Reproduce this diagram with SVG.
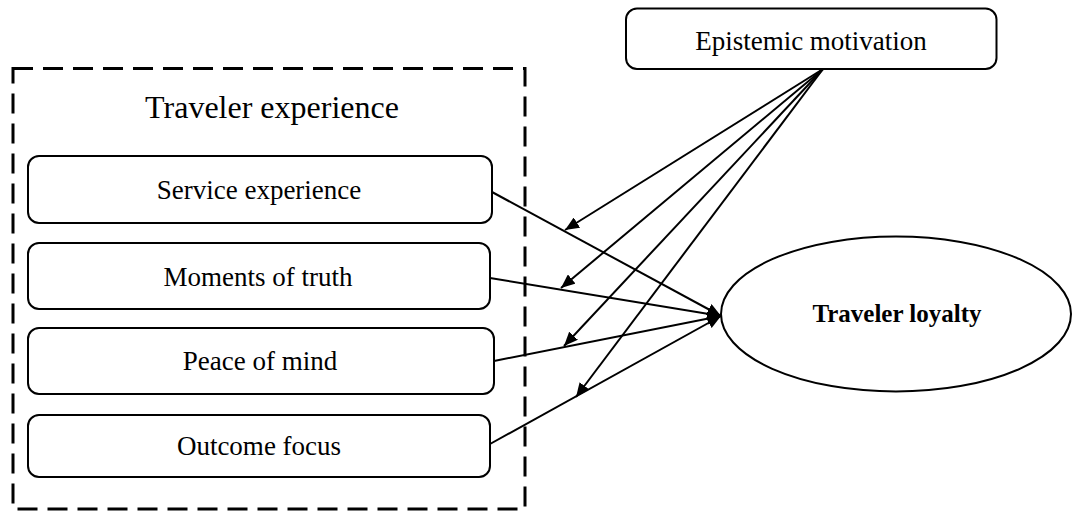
<svg xmlns="http://www.w3.org/2000/svg" width="1072" height="511" viewBox="0 0 1072 511">
<style>
.box{fill:#fff;stroke:#000;stroke-width:2}
.t{font-family:"Liberation Serif","Times New Roman",serif;font-size:27px;text-anchor:middle;fill:#000}
.ln{stroke:#000;stroke-width:2;fill:none;marker-end:url(#ah)}
</style>
<defs>
<marker id="ah" markerUnits="userSpaceOnUse" markerWidth="16" markerHeight="12" refX="14" refY="6" orient="auto">
<path d="M0,0 L14,6 L0,12 Z" fill="#000"/>
</marker>
</defs>
<rect x="0" y="0" width="1072" height="511" fill="#fff"/>
<g id="group-traveler-experience">
<rect x="13" y="68.5" width="512" height="440.5" fill="none" stroke="#000" stroke-width="3" stroke-dasharray="20,10"/>
<text class="t" x="272" y="118" style="font-size:32px">Traveler experience</text>
</g>
<g id="node-service-experience">
<rect class="box" x="28" y="156" width="464" height="67" rx="11"/>
<text class="t" x="259" y="199">Service experience</text>
</g>
<g id="node-moments-of-truth">
<rect class="box" x="28" y="243" width="462" height="66" rx="11"/>
<text class="t" x="258" y="286">Moments of truth</text>
</g>
<g id="node-peace-of-mind">
<rect class="box" x="28" y="328" width="466" height="66" rx="11"/>
<text class="t" x="260" y="370">Peace of mind</text>
</g>
<g id="node-outcome-focus">
<rect class="box" x="28" y="415" width="462" height="62" rx="11"/>
<text class="t" x="259" y="455">Outcome focus</text>
</g>
<g id="node-epistemic-motivation">
<rect class="box" x="626" y="8.5" width="370.5" height="60.5" rx="11"/>
<text class="t" x="811" y="49.5">Epistemic motivation</text>
</g>
<g id="node-traveler-loyalty">
<ellipse cx="896" cy="314" rx="175" ry="77.5" fill="#fff" stroke="#000" stroke-width="2"/>
<text class="t" x="897" y="322" style="font-size:25px;font-weight:bold">Traveler loyalty</text>
</g>
<g id="connectors">
<line class="ln" x1="492" y1="192" x2="721" y2="316"/>
<line class="ln" x1="490" y1="278" x2="721" y2="316"/>
<line class="ln" x1="494" y1="361" x2="721" y2="316"/>
<line class="ln" x1="490" y1="444" x2="721" y2="316"/>
<line class="ln" x1="823" y1="69" x2="565" y2="230"/>
<line class="ln" x1="823" y1="69" x2="561" y2="288"/>
<line class="ln" x1="823" y1="69" x2="564" y2="346"/>
<line class="ln" x1="823" y1="69" x2="576" y2="397"/>
</g>
</svg>
